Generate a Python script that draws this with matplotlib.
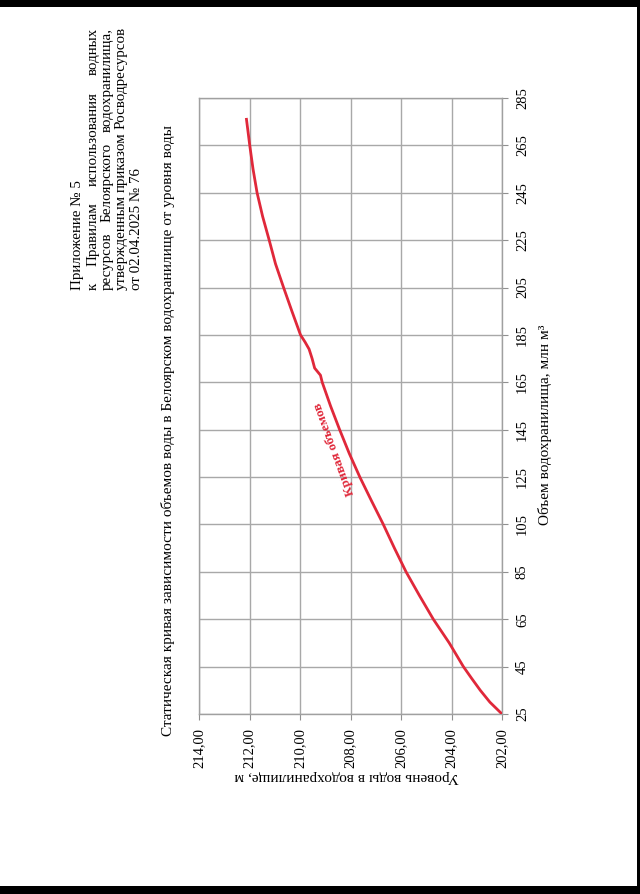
import matplotlib.pyplot as plt
from matplotlib.patches import Rectangle

# Data (volume in mln m3, level in m)
volume = [25, 30, 35, 40, 45, 55, 65, 75, 85, 95, 105, 115, 125, 135, 145,
          155, 165, 168, 171, 175, 179, 182, 185, 195, 205, 215, 225, 235,
          245, 255, 265, 276]
level = [202.00, 202.48, 202.86, 203.20, 203.53, 204.09, 204.72, 205.27,
         205.80, 206.26, 206.70, 207.17, 207.63, 208.05, 208.43, 208.79,
         209.12, 209.19, 209.42, 209.52, 209.64, 209.80, 209.98, 210.32,
         210.65, 210.97, 211.22, 211.48, 211.70, 211.86, 211.99, 212.12]

level_ticks = [214, 212, 210, 208, 206, 204, 202]
level_labels = ["214,00", "212,00", "210,00", "208,00", "206,00", "204,00", "202,00"]
volume_ticks = list(range(25, 286, 20))

header = [
    "Приложение № 5",
    "к Правилам использования водных",
    "ресурсов Белоярского водохранилища,",
    "утвержденным приказом Росводресурсов",
    "от 02.04.2025 № 76",
]
justify = [False, True, True, True, False]

title = ("Статическая кривая зависимости объемов воды в Белоярском "
         "водохранилище от уровня воды")

plt.rcParams['font.family'] = ['Liberation Serif', 'DejaVu Serif']

W, H = 640, 894
fig = plt.figure(figsize=(W / 100, H / 100), dpi=100)
fig.patch.set_facecolor("black")

# white page of the scan
fig.add_artist(Rectangle((0, 1 - 886 / H), 637 / W, (886 - 7) / H,
                         transform=fig.transFigure, facecolor="white",
                         edgecolor="none", zorder=0))


def px(x, y):
    return x / W, 1 - y / H


# header block (rotated page, text reads bottom to top)
fig.canvas.draw()
renderer = fig.canvas.get_renderer()
line_x = [78, 93, 107, 121, 136]
y_start, y_end = 290, 28
for txt, lx, just in zip(header, line_x, justify):
    if not just:
        fig.text(*px(lx, y_start), txt, rotation=90, rotation_mode="anchor",
                 ha="left", va="center", fontsize=10.8)
        continue
    words = txt.split()
    items = []
    for w in words:
        t = fig.text(*px(lx, y_start), w, rotation=90,
                     rotation_mode="anchor", ha="left", va="center",
                     fontsize=10.8)
        items.append(t)
    sizes = [t.get_window_extent(renderer).height for t in items]
    gap = max(((y_start - y_end) - sum(sizes)) / (len(items) - 1), 3)
    pos = y_start
    for t, s in zip(items, sizes):
        t.set_position(px(lx, pos))
        pos -= s + gap

# title
fig.text(*px(168, 430), title, rotation=90, ha="center", va="center",
         fontsize=11)

# chart axes: level horizontal (reversed), volume vertical
ax = fig.add_axes([199 / W, 1 - 714 / H, 303 / W, 616 / H])
ax.plot(level, volume, color="#e0283a", linewidth=2.0, zorder=3)

ax.set_xlim(214, 202)
ax.set_ylim(25, 285)
ax.set_xticks(level_ticks)
ax.set_xticklabels(level_labels, rotation=90, fontsize=10.5)
ax.set_yticks(volume_ticks)
ax.set_yticklabels([str(v) for v in volume_ticks], rotation=90, fontsize=10.5)
ax.yaxis.tick_right()
ax.tick_params(axis="x", length=4, pad=6, color="#909090")
ax.tick_params(axis="y", length=4, pad=6, color="#909090")
for lab in ax.get_yticklabels():
    lab.set_va("center")

ax.grid(True, color="#a8a8a8", linewidth=1.0)
for s in ax.spines.values():
    s.set_color("#a0a0a0")
    s.set_linewidth(1.0)

ax.text(208.65, 137, "Кривая объемов", color="#e0283a", fontsize=9.5,
        fontweight="bold", rotation=110, ha="center", va="center")

# axis titles
fig.text(*px(545, 425), "Объем водохранилища, млн м³", rotation=90,
         ha="center", va="center", fontsize=11)
fig.text(*px(347, 777), "Уровень воды в водохранилище, м", rotation=180,
         ha="center", va="center", fontsize=11)

fig.savefig("out.png", dpi=100, facecolor=fig.get_facecolor())
